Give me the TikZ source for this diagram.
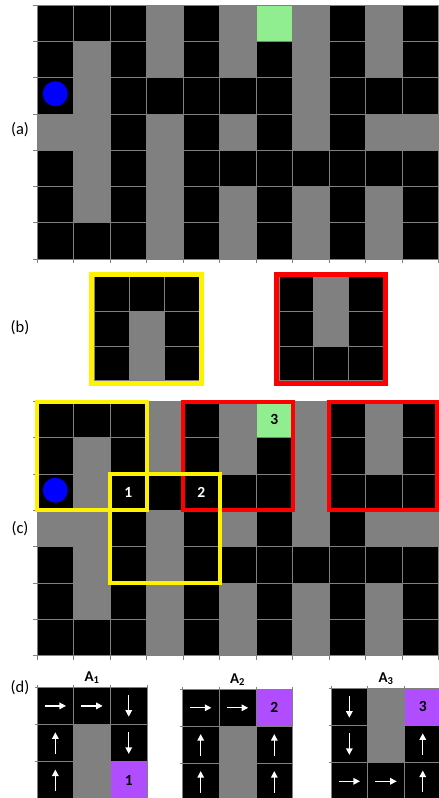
\documentclass[tikz,border=0pt]{standalone}
\usepackage{fontspec}
\setmainfont{Carlito}
\usepackage{tikz}
\usetikzlibrary{positioning}
\usetikzlibrary{calc,arrows.meta}

\definecolor{wallgray}{RGB}{128,128,128}
\definecolor{goalgreen}{RGB}{144,238,144}
\definecolor{subgoal}{RGB}{176,78,255}

% whole maze, in cell units (11 x 7)
\newcommand{\mazeboard}{%
  \fill[black] (0,0) rectangle (11,7);
  \foreach \c/\r in {3/0,5/0,7/0,9/0, 1/1,3/1,5/1,7/1,9/1, 1/2,7/2,
      0/3,1/3,3/3,5/3,7/3,9/3,10/3, 1/4,3/4, 1/5,3/5,5/5,7/5,9/5, 3/6,5/6,7/6,9/6}
    \fill[wallgray] (\c,\r) rectangle ++(1,1);
  \fill[goalgreen] (6,0) rectangle ++(1,1);
  \foreach \c in {0,...,11}
    \draw[cellline] (\c,0) -- ($(\c,7)+(0,-4pt)$);
  \foreach \r in {0,...,7}
    \draw[cellline] ($(0,\r)+(-4pt,0)$) -- (11,\r);
  \fill[agent] ($(0.5,2.5)+(0,2pt)$) circle (12.5pt);
}
% lines of a 3 x 3 window
\newcommand{\windowlines}{%
  \foreach \i in {0,...,3} {
    \draw[cellline] ($(\i,0)+(0,2.5pt)$) -- (\i,3);
    \draw[cellline] ($(0,\i)+(-2.5pt,0)$) -- (3,\i);
  }
}

\begin{document}
\begin{tikzpicture}[x=1pt,y=-1pt,
  cellline/.style={draw=wallgray,line width=0.7pt},
  agent/.style={fill=blue},
  hlyellow/.style={draw=yellow,line width=4pt},
  hlred/.style={draw=red,line width=4pt},
  frameyellow/.style={draw=yellow,line width=5pt},
  framered/.style={draw=red,line width=5pt},
  movearrow/.style={draw=white,line width=1.3pt,-{Triangle[width=6.5pt,length=6.5pt]}},
  paneltag/.style={font=\fontsize{16.5}{19}\selectfont},
  cellnum/.style={font=\fontsize{15.5}{18}\selectfont\bfseries},
  optlabel/.style={font=\fontsize{15}{18}\selectfont\bfseries,anchor=base}]
  \useasboundingbox (0,0) rectangle (439,798);
  \clip (0,0) rectangle (439,798);

  % (a) the maze
  \begin{scope}[shift={(37,5)},x=36.5pt,y=-36.29pt]
    \mazeboard
  \end{scope}
  \node[paneltag] (tag-a) at (20,130) {(a)};

  % (b) the two window patterns
  \begin{scope}[shift={(94,276.7)},x=35pt,y=-34.7pt]
    \fill[black] (0,0) rectangle (3,3);
    \fill[wallgray] (1,1) rectangle (2,3);
    \windowlines
    \draw[frameyellow] ($(0,0)+(-2.5pt,2pt)$) rectangle ($(3,3)+(2.5pt,-2.8pt)$);
  \end{scope}
  \begin{scope}[shift={(279,276.7)},x=34.7pt,y=-34.7pt]
    \fill[black] (0,0) rectangle (3,3);
    \fill[wallgray] (1,0) rectangle (2,2);
    \windowlines
    \draw[framered] ($(0,0)+(-2.5pt,2pt)$) rectangle ($(3,3)+(2.5pt,-2.8pt)$);
  \end{scope}
  \node[paneltag] (tag-b) at (20,328) {(b)};

  % (c) matches in the maze
  \begin{scope}[shift={(37,401.5)},x=36.5pt,y=-36.29pt]
    \mazeboard
    \node[cellnum,white] (mark-1) at (2.5,2.5) {1};
    \node[cellnum,white] (mark-2) at (4.5,2.5) {2};
    \node[cellnum] (mark-3) at (6.5,0.5) {3};
    \draw[hlred] (4,0) rectangle (7,3);
    \draw[hlred] (8,0) rectangle ($(11,3)+(-1.5pt,0)$);
    \draw[hlyellow] (0,0) rectangle (3,3);
    \draw[hlyellow] (2,2) rectangle (5,5);
  \end{scope}
  \node[paneltag] (tag-c) at (20,529) {(c)};

  % (d) options
  \begin{scope}[shift={(37,687.3)},x=36.7pt,y=-37.2pt]
    \fill[black] (0,0) rectangle (3,3);
    \fill[wallgray] (1,1) rectangle (2,3);
    \fill[subgoal] (2,2) rectangle (3,3);
    \windowlines
    \foreach \c/\r/\dx/\dy in {0/0/1/0, 1/0/1/0, 2/0/0/1, 0/1/0/-1, 2/1/0/1, 0/2/0/-1}
      \draw[movearrow] ({\c+0.5-0.29*\dx},{\r+0.5-0.29*\dy}) -- ({\c+0.5+0.29*\dx},{\r+0.5+0.29*\dy});
    \node[cellnum] (sub-1) at (2.5,2.5) {1};
    \node[optlabel] (title-1) at ($(1.5,0)+(0,6pt)$) {A\textsubscript{1}};
  \end{scope}
  \begin{scope}[shift={(182.3,689.3)},x=36.8pt,y=-37pt]
    \fill[black] (0,0) rectangle (3,3);
    \fill[wallgray] (1,1) rectangle (2,3);
    \fill[subgoal] (2,0) rectangle (3,1);
    \windowlines
    \foreach \c/\r/\dx/\dy in {0/0/1/0, 1/0/1/0, 0/1/0/-1, 2/1/0/-1, 0/2/0/-1, 2/2/0/-1}
      \draw[movearrow] ({\c+0.5-0.29*\dx},{\r+0.5-0.29*\dy}) -- ({\c+0.5+0.29*\dx},{\r+0.5+0.29*\dy});
    \node[cellnum] (sub-2) at (2.5,0.5) {2};
    \node[optlabel] (title-2) at ($(1.5,0)+(0,6pt)$) {A\textsubscript{2}};
  \end{scope}
  \begin{scope}[shift={(331,688.3)},x=36.7pt,y=-37.2pt]
    \fill[black] (0,0) rectangle (3,3);
    \fill[wallgray] (1,0) rectangle (2,2);
    \fill[subgoal] (2,0) rectangle (3,1);
    \windowlines
    \foreach \c/\r/\dx/\dy in {0/0/0/1, 0/1/0/1, 0/2/1/0, 1/2/1/0, 2/1/0/-1, 2/2/0/-1}
      \draw[movearrow] ({\c+0.5-0.29*\dx},{\r+0.5-0.29*\dy}) -- ({\c+0.5+0.29*\dx},{\r+0.5+0.29*\dy});
    \node[cellnum] (sub-3) at (2.5,0.5) {3};
    \node[optlabel] (title-3) at ($(1.5,0)+(0,6pt)$) {A\textsubscript{3}};
  \end{scope}
  \node[paneltag] (tag-d) at (20,688) {(d)};
\end{tikzpicture}
\end{document}
